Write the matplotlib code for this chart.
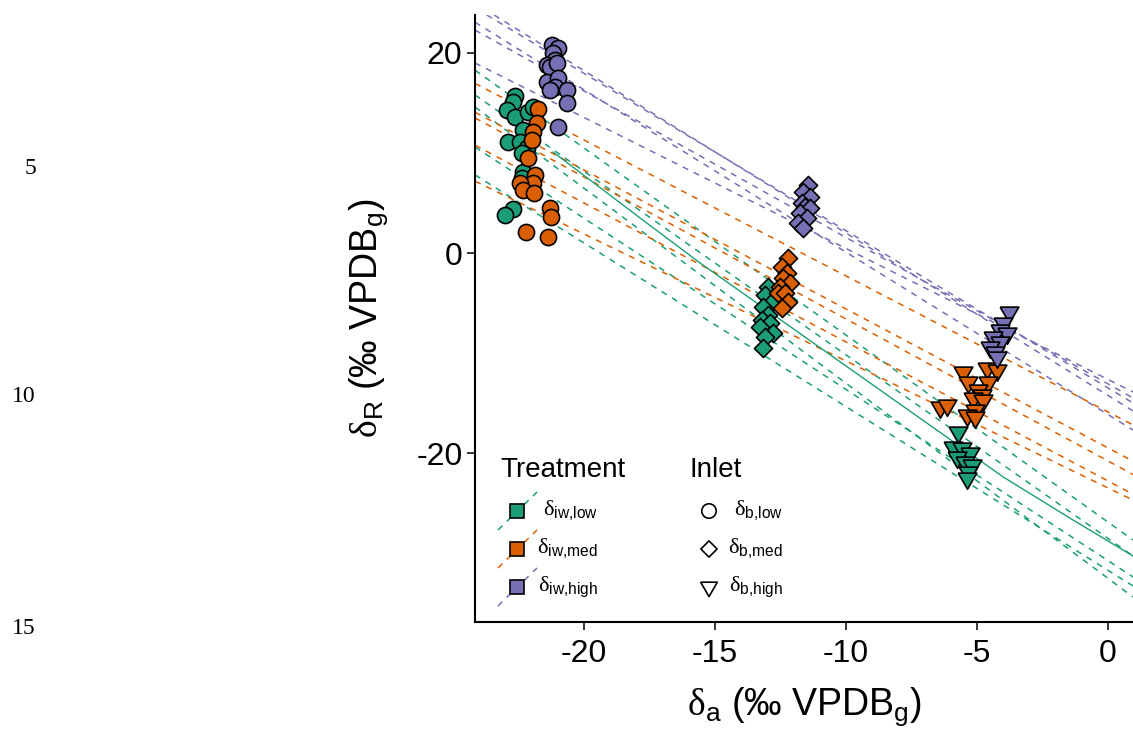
import matplotlib
matplotlib.use('Agg')
import matplotlib.pyplot as plt

plt.rcParams['font.family'] = ['Liberation Sans', 'DejaVu Sans']
plt.rcParams['axes.unicode_minus'] = False
plt.rcParams['mathtext.fontset'] = 'custom'
plt.rcParams['mathtext.rm'] = 'Liberation Sans'
plt.rcParams['mathtext.it'] = 'Liberation Sans:italic'
# serif delta, like the symbol font R uses
plt.rcParams['mathtext.sf'] = 'Liberation Serif'

W, H = 1133, 729

COL_LOW = '#1b9e77'
COL_MED = '#d95f02'
COL_HIGH = '#7570b3'

# ---- points: treatment (low / med / high) x inlet (b,low / b,med / b,high)
low_blow_x = [-22.63, -22.7, -22.95, -22.63, -22.13, -21.93, -22.32, -22.89, -22.44, -22.19, -22.38, -22.32, -22.38, -22.7, -23.0]
low_blow_y = [15.7, 15.1, 14.3, 13.6, 14.1, 14.6, 12.3, 11.1, 11.1, 10.5, 10.0, 8.1, 7.5, 4.4, 3.8]
med_blow_x = [-21.74, -21.8, -21.93, -22.0, -22.13, -21.87, -21.93, -22.44, -22.32, -21.9, -21.3, -21.26, -22.23, -21.36]
med_blow_y = [14.4, 13.0, 12.1, 11.3, 9.5, 7.8, 7.0, 7.0, 6.3, 6.0, 4.5, 3.6, 2.1, 1.6]
high_blow_x = [-21.23, -20.98, -21.17, -21.1, -21.42, -21.3, -21.04, -21.42, -20.98, -21.1, -20.66, -21.3, -20.66, -20.98]
high_blow_y = [20.8, 20.5, 20.0, 19.3, 18.8, 18.6, 19.0, 17.1, 17.5, 16.6, 16.3, 16.3, 15.0, 12.6]

low_bmed_x = [-12.96, -13.09, -12.84, -13.16, -12.96, -13.22, -12.9, -13.28, -12.77, -13.09, -13.16]
low_bmed_y = [-3.4, -4.2, -4.9, -5.4, -6.2, -6.7, -7.0, -7.4, -8.0, -8.4, -9.5]
med_bmed_x = [-12.2, -12.46, -12.27, -12.39, -12.14, -12.52, -12.58, -12.33, -12.2, -12.46]
med_bmed_y = [-0.5, -1.4, -2.0, -2.5, -3.0, -3.4, -4.0, -4.0, -4.9, -5.5]
high_bmed_x = [-11.44, -11.63, -11.37, -11.69, -11.56, -11.37, -11.76, -11.5, -11.82, -11.63]
high_bmed_y = [6.8, 6.1, 5.6, 5.0, 4.6, 4.5, 4.0, 3.5, 3.0, 2.5]

low_bhigh_x = [-5.71, -5.9, -5.58, -5.27, -5.78, -5.46, -5.2, -5.33, -5.39]
low_bhigh_y = [-17.9, -19.4, -19.5, -20.0, -20.4, -20.9, -21.2, -21.9, -22.5]
med_bhigh_x = [-5.52, -5.33, -4.63, -4.25, -4.57, -4.95, -4.82, -5.14, -4.76, -6.41, -6.16, -5.08, -5.39, -5.08]
med_bhigh_y = [-11.9, -12.9, -11.5, -11.7, -12.9, -13.7, -14.2, -14.5, -14.7, -15.4, -15.2, -15.7, -16.2, -16.4]
high_bhigh_x = [-3.77, -4.0, -4.12, -3.87, -4.38, -4.12, -4.5, -4.31, -4.25]
high_bhigh_y = [-5.9, -7.0, -7.7, -8.0, -8.4, -8.9, -9.4, -9.9, -10.4]

# ---- fitted lines (intercept at x = 0, slope) per treatment
low_icpt = [-26.92, -28.55, -32.54, -30.77, -31.74]
low_slope = [-1.871, -1.836, -1.951, -1.712, -1.637]
med_icpt = [-15.9, -19.5, -20.8, -22.8, -23.5]
med_slope = [-1.36, -1.39, -1.42, -1.39, -1.27]
high_icpt = [-14.25, -13.5, -16.16, -13.1, -12.65]
high_slope = [-1.624, -1.573, -1.624, -1.465, -1.31]

# solid line (low treatment)
curve_x = [-21.18, -17.86, -15.57, -4.0, -1.34, 0.95]
curve_y = [10.1, 3.5, -1.0, -22.4, -26.7, -30.3]

x_ticks = [-20, -15, -10, -5, 0]
y_ticks = [-20, 0, 20]

treat_labels = [r'$\mathsf{δ}_{\mathrm{iw{,}low}}$', r'$\mathsf{δ}_{\mathrm{iw{,}med}}$', r'$\mathsf{δ}_{\mathrm{iw{,}high}}$']
inlet_labels = [r'$\mathsf{δ}_{\mathrm{b{,}low}}$', r'$\mathsf{δ}_{\mathrm{b{,}med}}$', r'$\mathsf{δ}_{\mathrm{b{,}high}}$']

# equilateral down-pointing triangle
TRI = [(-1, 0.577), (1, 0.577), (0, -1.155), (-1, 0.577)]
SHAPES = {'circle': ('o', 135), 'diamond': ('D', 85), 'triangle': (TRI, 240)}


def fpos(px, py):
    return px / W, 1 - py / H


def main():
    fig = plt.figure(figsize=(W / 100, H / 100), dpi=100)
    ax = fig.add_axes([475 / W, 107 / H, 658 / W, 607 / H])

    for icpt, slope, col in [(low_icpt, low_slope, COL_LOW), (med_icpt, med_slope, COL_MED),
                             (high_icpt, high_slope, COL_HIGH)]:
        for b, m in zip(icpt, slope):
            ax.axline((0, b), slope=m, color=col, lw=1.1, dashes=(4, 4), zorder=1)

    ax.plot(curve_x, curve_y, color=COL_LOW, lw=1.0, zorder=1)

    groups = [
        (low_blow_x, low_blow_y, COL_LOW, 'circle'),
        (med_blow_x, med_blow_y, COL_MED, 'circle'),
        (high_blow_x, high_blow_y, COL_HIGH, 'circle'),
        (low_bmed_x, low_bmed_y, COL_LOW, 'diamond'),
        (med_bmed_x, med_bmed_y, COL_MED, 'diamond'),
        (high_bmed_x, high_bmed_y, COL_HIGH, 'diamond'),
        (low_bhigh_x, low_bhigh_y, COL_LOW, 'triangle'),
        (med_bhigh_x, med_bhigh_y, COL_MED, 'triangle'),
        (high_bhigh_x, high_bhigh_y, COL_HIGH, 'triangle'),
    ]
    for xs, ys, col, shp in groups:
        mk, s = SHAPES[shp]
        ax.scatter(xs, ys, marker=mk, s=s, c=col, edgecolors='black', linewidths=1.2, zorder=3)

    ax.set_xlim(-24.16, 0.95)
    ax.set_ylim(-36.9, 23.8)
    ax.set_xticks(x_ticks)
    ax.set_yticks(y_ticks)
    ax.spines['top'].set_visible(False)
    ax.spines['right'].set_visible(False)
    for s in ['left', 'bottom']:
        ax.spines[s].set_linewidth(1.5)
    ax.tick_params(direction='out', length=6, width=1.1, labelsize=23, colors='black', pad=3)
    ax.tick_params(axis='x', pad=6)

    ax.set_xlabel(r'$\mathsf{δ}_{\mathrm{a}}$ (‰ VPDB$_{\mathrm{g}}$)', fontsize=27, labelpad=12)
    ax.set_ylabel(r'$\mathsf{δ}_{\mathrm{R}}$ (‰ VPDB$_{\mathrm{g}}$)', fontsize=27, labelpad=19)

    # legend, drawn by hand
    fig.text(*fpos(500, 470), 'Treatment', fontsize=20, ha='left', va='center')
    fig.text(*fpos(690, 470), 'Inlet', fontsize=20, ha='left', va='center')
    treat_cols = [COL_LOW, COL_MED, COL_HIGH]
    inlet_marks = ['circle', 'diamond', 'triangle']
    for i in range(3):
        yk = 511 + 38 * i
        x0, y0 = fpos(498, yk + 19)
        x1, y1 = fpos(537, yk - 19)
        fig.add_artist(plt.Line2D([x0, x1], [y0, y1], transform=fig.transFigure,
                                  color=treat_cols[i], lw=1.1, dashes=(4, 4)))
        kx, ky = fpos(517, yk)
        fig.add_artist(plt.Line2D([kx], [ky], transform=fig.transFigure, marker='s', markersize=9.5,
                                  markerfacecolor=treat_cols[i], markeredgecolor='black',
                                  markeredgewidth=1.2, linestyle='none'))
        fig.text(*fpos(598, yk), treat_labels[i], fontsize=16, ha='right', va='center')

        mk, s = SHAPES[inlet_marks[i]]
        ix, iy = fpos(709, yk)
        ax.scatter([ix], [iy], transform=fig.transFigure, marker=mk, s=s * 0.8, facecolors='none',
                   edgecolors='black', linewidths=1.2, clip_on=False, zorder=5)
        fig.text(*fpos(783, yk), inlet_labels[i], fontsize=16, ha='right', va='center')

    # stray line numbers at the left margin
    for lab, py in [('5', 168), ('10', 397), ('15', 628)]:
        fig.text(*fpos(36, py), lab, fontsize=17, ha='right', va='center', family='Liberation Serif')

    fig.savefig('out.png', dpi=100)


if __name__ == '__main__':
    main()
